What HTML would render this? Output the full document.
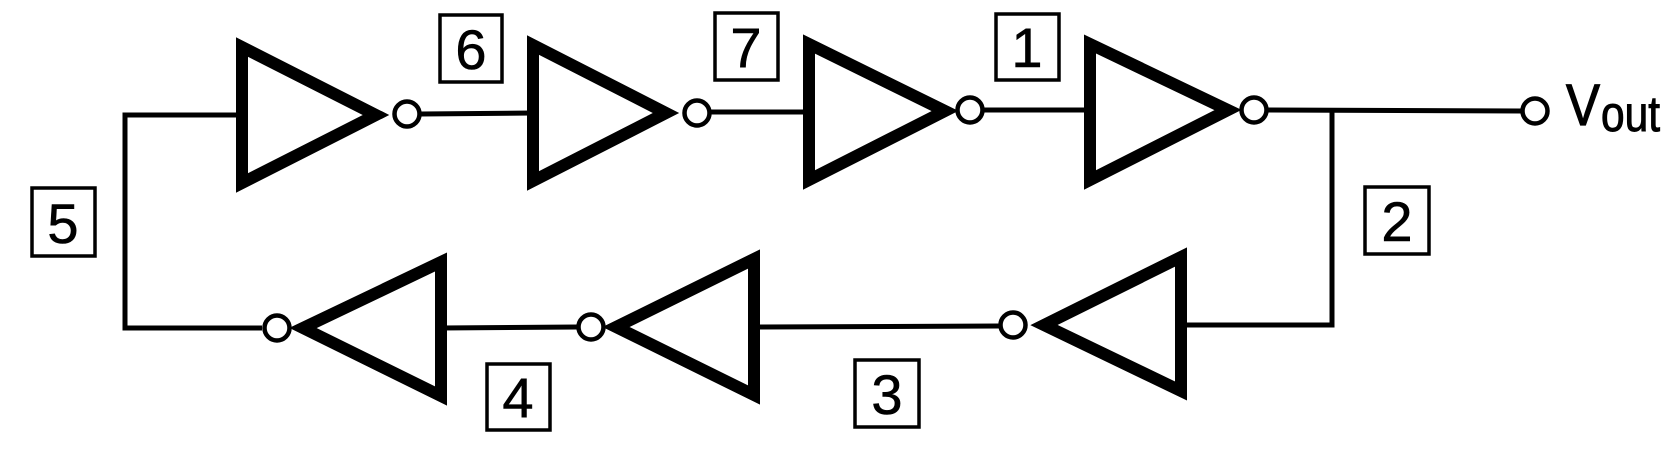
<!DOCTYPE html>
<html><head><meta charset="utf-8"><style>
html,body{margin:0;padding:0;background:#fff;}
svg{display:block;}
text{font-family:"Liberation Sans",sans-serif;fill:#000;}
</style></head><body>
<svg width="1674" height="451" viewBox="0 0 1674 451">
<g fill="none" stroke="#000" stroke-width="5">
  <polyline points="241,115 125,115 125,328 262,328"/>
  <line x1="421" y1="114" x2="532" y2="113"/>
  <line x1="711" y1="112" x2="805" y2="112"/>
  <line x1="984" y1="110" x2="1090" y2="110"/>
  <line x1="1268" y1="110" x2="1521" y2="111"/>
  <polyline points="1332,110 1332,325 1181,325"/>
  <line x1="999" y1="326" x2="754" y2="327"/>
  <line x1="577" y1="327" x2="441" y2="328"/>
</g>
<g fill="none" stroke="#000" stroke-width="12" stroke-linejoin="miter">
  <polygon points="242,47 242,183 376,115"/>
  <polygon points="533,45 533,181 666,113"/>
  <polygon points="809,44 809,180 945,111"/>
  <polygon points="1090,44 1090,180 1228,110"/>
  <polygon points="1181,257 1181,391 1044,325"/>
  <polygon points="754,259 754,395 616,327"/>
  <polygon points="441,262 441,396 303,328"/>
</g>
<g fill="#fff" stroke="#000" stroke-width="4.5">
  <circle cx="407" cy="114" r="12.5"/>
  <circle cx="697" cy="113" r="12.5"/>
  <circle cx="970" cy="110" r="12.5"/>
  <circle cx="1254" cy="110" r="12.5"/>
  <circle cx="1013" cy="325" r="12.5"/>
  <circle cx="591" cy="327" r="12.5"/>
  <circle cx="277" cy="328" r="12.5"/>
  <circle cx="1535" cy="111" r="12.5"/>
</g>
<g fill="#fff" stroke="#000" stroke-width="3.5">
  <rect x="440" y="15" width="62" height="67"/>
  <rect x="715" y="13" width="63" height="67"/>
  <rect x="996" y="14" width="63" height="66"/>
  <rect x="1365" y="187" width="64" height="67"/>
  <rect x="855" y="360" width="64" height="67"/>
  <rect x="487" y="364" width="63" height="66"/>
  <rect x="32" y="188" width="63" height="68"/>
</g>
<g font-size="56" text-anchor="middle" stroke="#000" stroke-width="0.6">
  <text x="471" y="69">6</text>
  <text x="746" y="67">7</text>
  <text x="1027" y="67">1</text>
  <text x="1397" y="241">2</text>
  <text x="887" y="414">3</text>
  <text x="518" y="417">4</text>
  <text x="63" y="243">5</text>
</g>
<text x="1566" y="125" font-size="58" stroke="#000" stroke-width="1.2" textLength="34" lengthAdjust="spacingAndGlyphs">V</text>
<text x="1601" y="131" font-size="50" stroke="#000" stroke-width="1" textLength="59" lengthAdjust="spacingAndGlyphs">out</text>
</svg>
</body></html>
